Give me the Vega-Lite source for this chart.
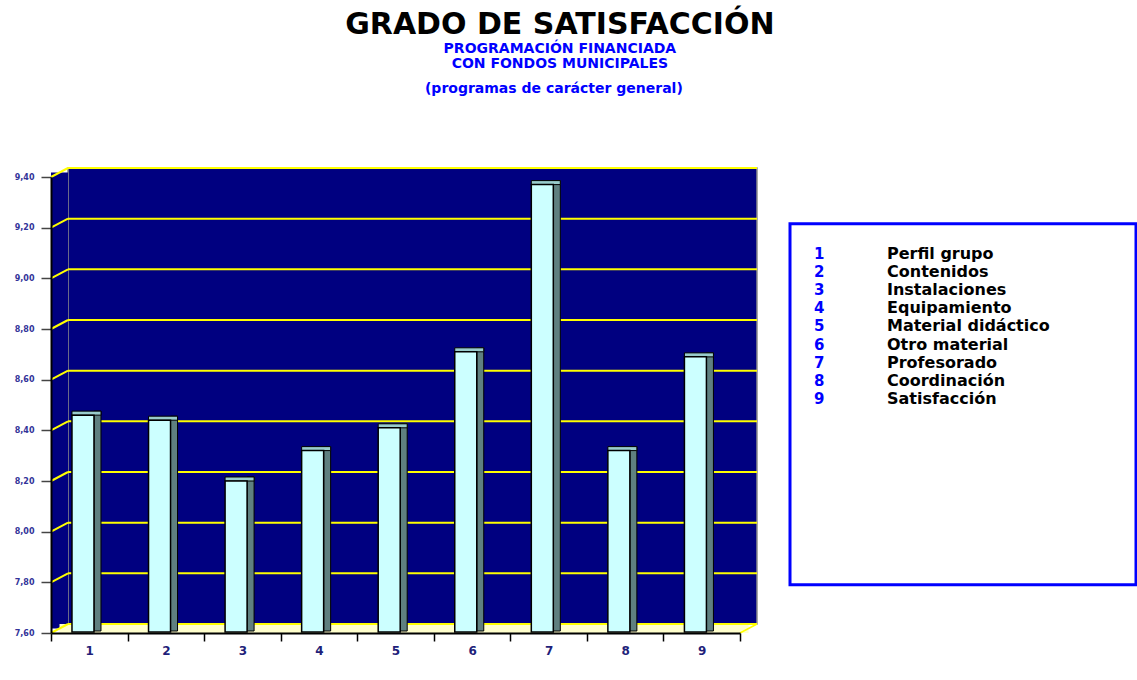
{
  "$schema": "https://vega.github.io/schema/vega-lite/v6.json",
  "background": "white",
  "padding": {"left": 14, "top": 10, "right": 0, "bottom": 0},
  "config": {"font": "DejaVu Sans", "view": {"stroke": null}},
  "title": {
    "text": "GRADO DE SATISFACCIÓN",
    "subtitle": ["PROGRAMACIÓN FINANCIADA", "CON FONDOS MUNICIPALES"],
    "anchor": "middle", "dx": -16,
    "font": "DejaVu Sans", "fontSize": 30, "fontWeight": "bold", "color": "#000000",
    "subtitleFont": "DejaVu Sans", "subtitleFontSize": 14, "subtitleFontWeight": "bold", "subtitleColor": "#0000ff",
    "subtitleLineHeight": 15, "subtitlePadding": 2, "offset": 11
  },
  "data": {"values": [
    {"n": 1, "v": 8.46, "label": "Perfil grupo"},
    {"n": 2, "v": 8.44, "label": "Contenidos"},
    {"n": 3, "v": 8.20, "label": "Instalaciones"},
    {"n": 4, "v": 8.32, "label": "Equipamiento"},
    {"n": 5, "v": 8.41, "label": "Material didáctico"},
    {"n": 6, "v": 8.71, "label": "Otro material"},
    {"n": 7, "v": 9.37, "label": "Profesorado"},
    {"n": 8, "v": 8.32, "label": "Coordinación"},
    {"n": 9, "v": 8.69, "label": "Satisfacción"}
  ]},
  "vconcat": [
    {
      "title": {"text": "(programas de carácter general)", "anchor": "middle", "dx": -22, "font": "DejaVu Sans", "fontSize": 14, "fontWeight": "bold", "color": "#0000ff", "offset": 71},
      "spacing": 30,
      "center": true,
      "hconcat": [
        {
          "width": 689,
          "height": 456,
          "resolve": {"scale": {"x": "independent"}, "axis": {"y": "independent", "x": "independent"}},
          "layer": [
            {
              "layer": [
                {
                  "data": {"values": [{}]},
                  "mark": {"type": "rect", "fill": "#000080", "stroke": "#8c8c8c", "strokeWidth": 1.5, "xOffset": 17, "x2Offset": 17, "yOffset": -9, "y2Offset": -9},
                  "encoding": {
                    "x": {"datum": 0, "type": "quantitative", "scale": {"domain": [0, 1], "nice": false, "zero": false}, "axis": null},
                    "x2": {"datum": 1},
                    "y": {"datum": 9.4, "type": "quantitative", "scale": {"domain": [7.6, 9.4], "nice": false, "zero": false}, "axis": null},
                    "y2": {"datum": 7.6}
                  }
                },
                {
                  "data": {"values": [{}]},
                  "mark": {"type": "rect", "fill": "#000080", "xOffset": 0, "x2Offset": 17, "yOffset": -4.5, "y2Offset": -4.5},
                  "encoding": {
                    "x": {"datum": 0, "type": "quantitative", "scale": {"domain": [0, 1], "nice": false, "zero": false}, "axis": null},
                    "x2": {"datum": 0},
                    "y": {"datum": 9.4, "type": "quantitative", "scale": {"domain": [7.6, 9.4], "nice": false, "zero": false}, "axis": null},
                    "y2": {"datum": 7.6}
                  }
                },
                {
                  "data": {"values": [{}]},
                  "mark": {"type": "rect", "fill": "#ffffcc", "xOffset": 8.5, "x2Offset": 8.5, "yOffset": -9, "y2Offset": 0},
                  "encoding": {
                    "x": {"datum": 0, "type": "quantitative", "scale": {"domain": [0, 1], "nice": false, "zero": false}, "axis": null},
                    "x2": {"datum": 1},
                    "y": {"datum": 7.6, "type": "quantitative", "scale": {"domain": [7.6, 9.4], "nice": false, "zero": false}, "axis": null},
                    "y2": {"datum": 7.6}
                  }
                },
                {
                  "data": {"values": [{"v": 7.6}, {"v": 7.8}, {"v": 8.0}, {"v": 8.2}, {"v": 8.4}, {"v": 8.6}, {"v": 8.8}, {"v": 9.0}, {"v": 9.2}, {"v": 9.4}]},
                  "mark": {"type": "rule", "color": "#ffff00", "strokeWidth": 2, "xOffset": 17, "x2Offset": 17, "yOffset": -9},
                  "encoding": {
                    "x": {"datum": 0, "type": "quantitative", "scale": {"domain": [0, 1], "nice": false, "zero": false}, "axis": null},
                    "x2": {"datum": 1},
                    "y": {"field": "v", "type": "quantitative", "scale": {"domain": [7.6, 9.4], "nice": false, "zero": false}, "axis": null}
                  }
                },
                {
                  "data": {"values": [{"v": 7.6}, {"v": 7.8}, {"v": 8.0}, {"v": 8.2}, {"v": 8.4}, {"v": 8.6}, {"v": 8.8}, {"v": 9.0}, {"v": 9.2}, {"v": 9.4}]},
                  "mark": {"type": "rule", "color": "#ffff00", "strokeWidth": 2, "xOffset": 0, "x2Offset": 17, "yOffset": 0, "y2Offset": -9},
                  "encoding": {
                    "x": {"datum": 0, "type": "quantitative", "scale": {"domain": [0, 1], "nice": false, "zero": false}, "axis": null},
                    "x2": {"datum": 0},
                    "y": {"field": "v", "type": "quantitative", "scale": {"domain": [7.6, 9.4], "nice": false, "zero": false}, "axis": null},
                    "y2": {"field": "v"}
                  }
                },
                {
                  "data": {"values": [{}]},
                  "mark": {"type": "rule", "color": "#ffff00", "strokeWidth": 1.5, "xOffset": 0, "x2Offset": 17, "yOffset": 0, "y2Offset": -9},
                  "encoding": {
                    "x": {"datum": 1, "type": "quantitative", "scale": {"domain": [0, 1], "nice": false, "zero": false}, "axis": null},
                    "x2": {"datum": 1},
                    "y": {"datum": 7.6, "type": "quantitative", "scale": {"domain": [7.6, 9.4], "nice": false, "zero": false}, "axis": null},
                    "y2": {"datum": 7.6}
                  }
                }
              ]
            },
            {
              "encoding": {
                "x": {
                  "field": "n", "type": "ordinal",
                  "scale": {"paddingInner": 0, "paddingOuter": 0},
                  "axis": {
                    "title": null, "orient": "bottom", "tickBand": "extent", "zindex": 1,
                    "domain": true, "domainColor": "#000000", "domainWidth": 2, "grid": false, "labelAngle": 0,
                    "labelFont": "DejaVu Sans", "labelFontWeight": "bold", "labelFontSize": 12, "labelColor": "#1f1f7a",
                    "tickColor": "#000000", "tickWidth": 1.5, "tickSize": 8, "labelPadding": 4
                  }
                },
                "y": {
                  "field": "v", "type": "quantitative",
                  "scale": {"domain": [7.6, 9.4], "nice": false, "zero": false},
                  "axis": {
                    "title": null, "orient": "left", "zindex": 1, "domain": true, "domainColor": "#000000", "domainWidth": 2, "grid": false,
                    "values": [7.6, 7.8, 8.0, 8.2, 8.4, 8.6, 8.8, 9.0, 9.2, 9.4],
                    "labelExpr": "replace(format(datum.value, '.2f'), '.', ',')",
                    "labelFont": "DejaVu Sans", "labelFontWeight": "bold", "labelFontSize": 8, "labelColor": "#333399",
                    "tickColor": "#444444", "tickSize": 10, "tickWidth": 1.5, "labelPadding": 7
                  }
                }
              },
              "layer": [
                {
                  "mark": {"type": "bar", "width": 7, "xOffset": 8.2, "yOffset": -4, "y2Offset": -2, "fill": "#5f8080", "stroke": "#000000", "strokeWidth": 1},
                  "encoding": {"y2": {"datum": 7.6}}
                },
                {
                  "mark": {"type": "bar", "width": 29, "xOffset": -2.8, "yOffset": -4, "y2Offset": 0, "fill": "#99cccc", "stroke": "#000000", "strokeWidth": 1},
                  "encoding": {"y2": {"field": "v"}}
                },
                {
                  "mark": {"type": "bar", "width": 22, "xOffset": -6.3, "yOffset": 0, "y2Offset": -1, "fill": "#ccffff", "stroke": "#000000", "strokeWidth": 1.5},
                  "encoding": {"y2": {"datum": 7.6}}
                }
              ]
            }
          ]
        },
        {
          "width": 346,
          "height": 361,
          "view": {"stroke": "#0000ff", "strokeWidth": 3, "fill": "white"},
          "title": {"text": "\u00a0", "orient": "bottom", "fontSize": 12, "offset": 12},
          "encoding": {
            "y": {"field": "n", "type": "quantitative", "scale": {"domain": [-0.674, 19.27], "reverse": true, "nice": false, "zero": false}, "axis": null}
          },
          "layer": [
            {
              "mark": {"type": "text", "align": "left", "baseline": "middle", "dx": -149, "font": "DejaVu Sans", "fontWeight": "bold", "fontSize": 15, "color": "#0000ff"},
              "encoding": {"text": {"field": "n", "type": "nominal"}}
            },
            {
              "mark": {"type": "text", "align": "left", "baseline": "middle", "dx": -76, "font": "DejaVu Sans", "fontWeight": "bold", "fontSize": 16, "color": "#000000"},
              "encoding": {"text": {"field": "label", "type": "nominal"}}
            }
          ]
        }
      ]
    }
  ]
}
